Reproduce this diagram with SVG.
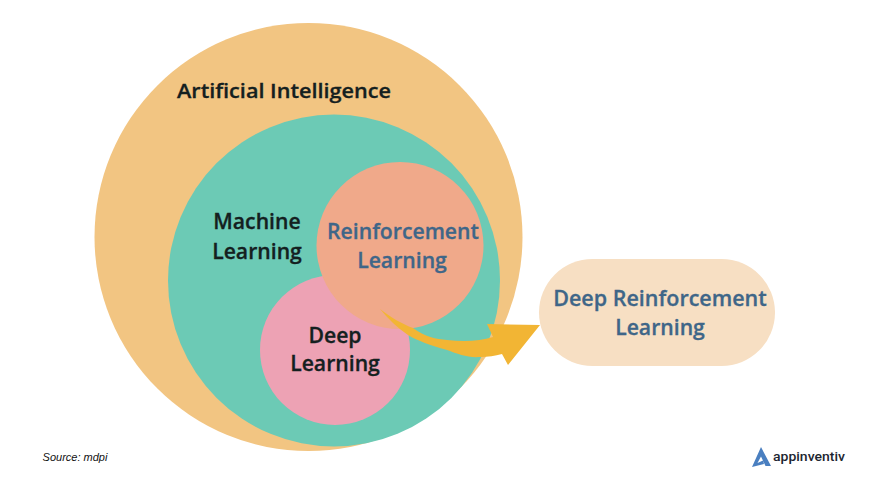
<svg xmlns="http://www.w3.org/2000/svg" width="871" height="480" viewBox="0 0 871 480">
<style>
text{font-family:"Open Sans","Noto Sans","Liberation Sans",sans-serif;font-weight:600;text-anchor:middle;font-size:21.200px;stroke-width:.3px}
.k{fill:#14201f;stroke:#14201f}
.b{fill:#3f6688;stroke:#3f6688}
</style>
<rect width="871" height="480" fill="#ffffff"/>
<g id="artificial-intelligence">
<circle cx="308.500" cy="237" r="214" fill="#f2c582"/>
<text class="k" x="284" y="98" textLength="214" lengthAdjust="spacingAndGlyphs" style="font-size:20px">Artificial Intelligence</text>
</g>
<g id="machine-learning">
<circle cx="334" cy="280.500" r="166" fill="#6ccab5"/>
<text class="k" x="257" y="229">Machine</text>
<text class="k" x="257" y="259">Learning</text>
</g>
<g id="deep-learning">
<circle cx="335" cy="350" r="75" fill="#eda2b4"/>
<text class="k" x="335" y="343">Deep</text>
<text class="k" x="335" y="371">Learning</text>
</g>
<g id="reinforcement-learning">
<circle cx="400" cy="245.500" r="83.500" fill="#f0a98a"/>
<text class="b" x="403" y="239">Reinforcement</text>
<text class="b" x="402" y="268">Learning</text>
</g>
<g id="deep-reinforcement-learning">
<rect x="539" y="259" width="236" height="107" rx="53.500" fill="#f7dfc3"/>
<text class="b" x="660" y="306" style="font-size:21.500px">Deep Reinforcement</text>
<text class="b" x="660" y="335">Learning</text>
</g>
<g id="connectors">
<path d="M380 309C392 318 402 324 413 328C425 337 436 339 447 340C465 342 480 341 493 337L487 324L540 325L508 365L502 354C495 356 488 357 480 357C468 358 458 354 447 350C430 345 418 341 408 335C398 328 388 319 380 309Z" fill="#f2b534"/>
</g>
<g id="source">
<text x="75" y="461" style="font-family:'Liberation Sans',Arial,sans-serif;font-style:italic;font-weight:400;font-size:11px;stroke:none;fill:#111">Source: mdpi</text>
</g>
<g id="appinventiv-logo">
<path d="M761 447L771 466L765.500 466L761 456.500L757.500 463L763 460.500L764 464L752 467Z" fill="#4a7fc0"/>
<text x="809" y="461" textLength="72" lengthAdjust="spacingAndGlyphs" style="font-family:Roboto,'Liberation Sans',sans-serif;font-weight:500;font-size:13.500px;stroke:none;fill:#1c2530">appinventiv</text>
</g>
</svg>
